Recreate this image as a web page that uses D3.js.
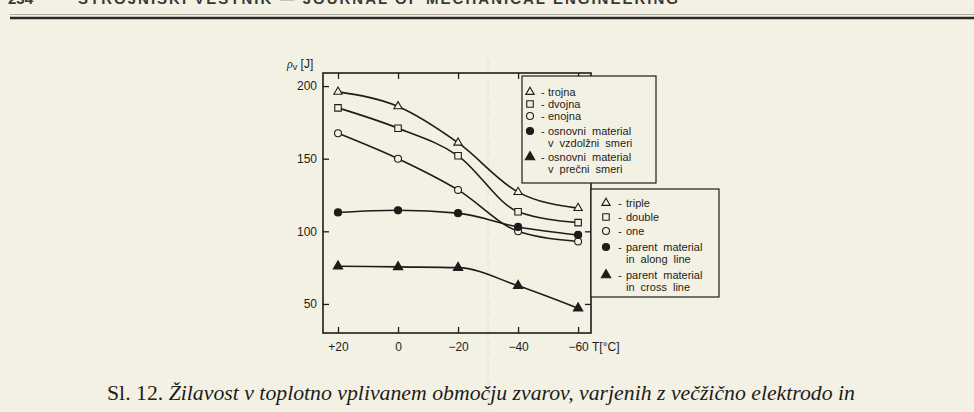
<!DOCTYPE html>
<html>
<head>
<meta charset="utf-8">
<script src="https://cdn.jsdelivr.net/npm/d3@7"></script>
<style>
  html, body { margin: 0; padding: 0; background: #f3f1e4; }
  svg { display: block; }
</style>
</head>
<body>
<script>
// temperatures on the x axis, degrees C
var temps = [20, 0, -20, -40, -60];
// impact toughness, J
var trojna   = [196, 186, 161, 127, 116];
var dvojna   = [185, 171, 152, 113.5, 106];
var enojna   = [167.5, 150, 128.5, 100, 93];
var vzdolzni = [113, 114.5, 112.5, 103, 97.5];
var precni   = [76, 75.5, 75, 62.5, 47];

var yTicks = [50, 100, 150, 200];

var legendSl = [
  ["tri", "trojna"], ["sq", "dvojna"], ["circ", "enojna"],
  ["dot", "osnovni material", "v vzdolžni smeri"],
  ["ftri", "osnovni material", "v prečni smeri"]
];
var legendEn = [
  ["tri", "triple"], ["sq", "double"], ["circ", "one"],
  ["dot", "parent material", "in along line"],
  ["ftri", "parent material", "in cross line"]
];

var caption = "Žilavost v toplotno vplivanem območju zvarov, varjenih z večžično elektrodo in";

var W = 974, H = 412;
var bg = "#f3f1e4", ink = "#1e1c1a";

var svg = d3.select("body").append("svg")
    .attr("width", W)
    .attr("height", H);

svg.append("rect").attr("width", W).attr("height", H).attr("fill", bg);

// faint column rule showing through the paper
svg.append("line")
    .attr("x1", 488).attr("x2", 488).attr("y1", 60).attr("y2", 412)
    .attr("stroke", "#e2dece").attr("stroke-dasharray", "6,4");

// running head, cut at the top edge like the scan
var head = svg.append("g")
    .attr("fill", "#3a3836")
    .style("font-family", "'Liberation Sans', sans-serif")
    .style("font-size", "15px")
    .style("font-weight", "bold");
head.append("text").attr("x", 8).attr("y", 4).text("234");
head.append("text").attr("x", 78).attr("y", 4)
    .attr("textLength", 600)
    .text("STROJNIŠKI VESTNIK — JOURNAL OF MECHANICAL ENGINEERING");
svg.append("line").attr("x1", 10).attr("x2", W).attr("y1", 14.5).attr("y2", 14.5)
    .attr("stroke", "#a9a69b").attr("stroke-width", 1);
svg.append("line").attr("x1", 10).attr("x2", W).attr("y1", 18).attr("y2", 18)
    .attr("stroke", "#2a2826").attr("stroke-width", 2.5);

// chart
var x = d3.scaleLinear().domain([25, -64.3]).range([323, 591]);
var y = d3.scaleLinear().domain([30, 209]).range([333, 73]);

var chart = svg.append("g")
    .style("font-family", "'Liberation Sans', Arial, sans-serif")
    .attr("fill", ink);

chart.append("rect")
    .attr("x", x.range()[0]).attr("y", y.range()[1])
    .attr("width", x.range()[1] - x.range()[0])
    .attr("height", y.range()[0] - y.range()[1])
    .attr("fill", "none").attr("stroke", ink).attr("stroke-width", 1.6);

function styleAxis(g) {
  g.select(".domain").remove();
  g.selectAll(".tick line").attr("stroke", ink).attr("stroke-width", 1.3);
  g.selectAll(".tick text").attr("fill", ink).style("font-size", "12px");
}

chart.append("g")
    .attr("transform", "translate(" + x.range()[0] + ",0)")
    .call(d3.axisLeft(y).tickValues(yTicks).tickSize(-6).tickPadding(6))
    .call(styleAxis);
chart.append("g")
    .attr("transform", "translate(" + x.range()[1] + ",0)")
    .call(d3.axisRight(y).tickValues(yTicks).tickSize(-6).tickFormat(""))
    .call(styleAxis);
chart.append("g")
    .attr("transform", "translate(0," + y.range()[0] + ")")
    .call(d3.axisBottom(x).tickValues(temps).tickSize(-6).tickPadding(9)
      .tickFormat(function(d) { return d > 0 ? "+" + d : d == 0 ? "0" : "−" + (-d); }))
    .call(styleAxis);
chart.append("g")
    .attr("transform", "translate(0," + y.range()[1] + ")")
    .call(d3.axisTop(x).tickValues(temps).tickSize(-6).tickFormat(""))
    .call(styleAxis);

var yl = chart.append("text").attr("x", 287).attr("y", 68).style("font-size", "12px");
yl.append("tspan").style("font-style", "italic").style("font-family", "'Liberation Serif', serif").text("ρ");
yl.append("tspan").attr("dy", 2).style("font-size", "9px").text("v");
yl.append("tspan").attr("dy", -2).text(" [J]");

chart.append("text").attr("x", 592).attr("y", 351)
    .style("font-size", "12px").text("T[°C]");

var line = d3.line()
    .x(function(d, i) { return x(temps[i]); })
    .y(function(d) { return y(d); })
    .curve(d3.curveMonotoneX);

var series = [
  [trojna, "tri"], [dvojna, "sq"], [enojna, "circ"],
  [vzdolzni, "dot"], [precni, "ftri"]
];

var symbols = {
  tri:  [d3.symbolTriangle, 30, false],
  sq:   [d3.symbolSquare, 42, false],
  circ: [d3.symbolCircle, 38, false],
  dot:  [d3.symbolCircle, 40, true],
  ftri: [d3.symbolTriangle, 38, true]
};

function marker(g, kind) {
  var s = symbols[kind];
  g.append("path")
    .attr("d", d3.symbol().type(s[0]).size(s[1]))
    .attr("fill", s[2] ? ink : bg)
    .attr("stroke", ink)
    .attr("stroke-width", 1.1);
}

series.forEach(function(s) {
  chart.append("path")
    .datum(s[0])
    .attr("d", line)
    .attr("fill", "none")
    .attr("stroke", ink)
    .attr("stroke-width", 1.6);
  s[0].forEach(function(v, i) {
    var g = chart.append("g")
      .attr("transform", "translate(" + x(temps[i]) + "," + y(v) + ")");
    marker(g, s[1]);
  });
});

// legends: box, then marker / dash / text offsets from the box's left edge
function drawLegend(items, bx, by, bw, bh, rowY, off) {
  var lg = chart.append("g").style("font-size", "11px");
  lg.append("rect")
    .attr("x", bx).attr("y", by).attr("width", bw).attr("height", bh)
    .attr("fill", bg).attr("stroke", ink).attr("stroke-width", 1.2);
  items.forEach(function(it, i) {
    var ry = rowY[i];
    var m = lg.append("g").attr("transform", "translate(" + (bx + off[0]) + "," + ry + ")");
    marker(m, it[0]);
    lg.append("text").attr("x", bx + off[1]).attr("y", ry + 4).text("-");
    lg.append("text").attr("x", bx + off[2]).attr("y", ry + 4)
      .style("word-spacing", "3px").text(it[1]);
    if (it[2]) {
      lg.append("text").attr("x", bx + off[2]).attr("y", ry + 16)
        .style("word-spacing", "3px").text(it[2]);
    }
  });
}

drawLegend(legendSl, 522, 76, 134, 107, [92, 104, 116, 131, 157], [8, 19, 26]);
drawLegend(legendEn, 591, 189, 128, 108, [203, 217, 231, 247, 275], [15, 27, 35]);

// caption
var cap = svg.append("text")
    .attr("x", 107).attr("y", 400)
    .attr("fill", ink)
    .attr("textLength", 748)
    .attr("lengthAdjust", "spacingAndGlyphs")
    .style("font-family", "'Liberation Serif', serif")
    .style("font-size", "20px");
cap.append("tspan").text("Sl. 12. ");
cap.append("tspan").style("font-style", "italic").text(caption);
</script>
</body>
</html>
